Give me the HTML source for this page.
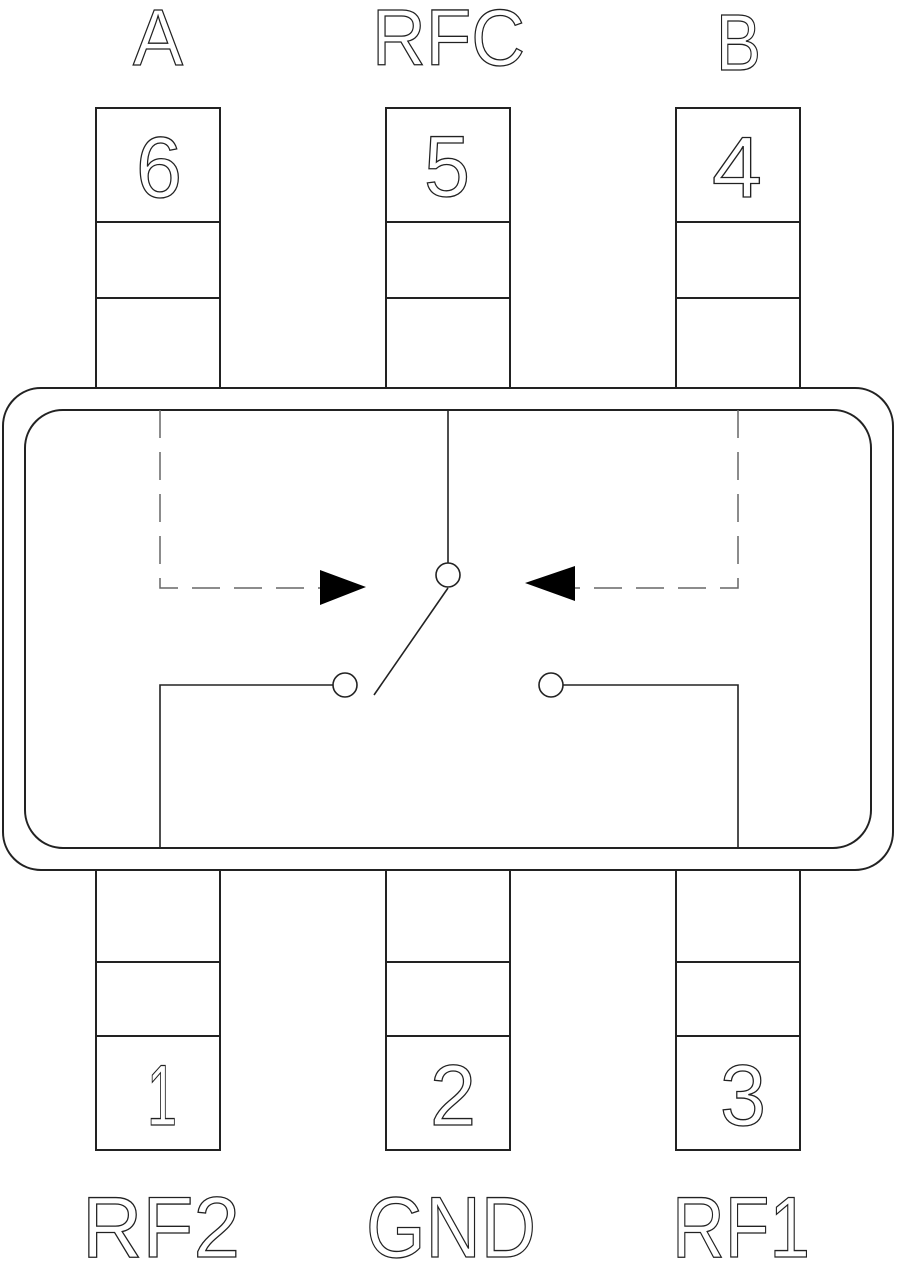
<!DOCTYPE html>
<html><head><meta charset="utf-8"><style>
html,body{margin:0;padding:0;background:#fff;}
svg{display:block;}
text{font-family:"Liberation Sans Narrow","Liberation Sans",sans-serif;fill:#fff;stroke:#222;stroke-width:1.3;}
</style></head><body>
<svg width="900" height="1265" viewBox="0 0 900 1265" xmlns="http://www.w3.org/2000/svg">
<g fill="none" stroke="#222" stroke-width="2">
<!-- top pins -->
<rect x="96" y="108" width="124" height="280"/><line x1="96" y1="222" x2="220" y2="222"/><line x1="96" y1="298" x2="220" y2="298"/>
<rect x="386" y="108" width="124" height="280"/><line x1="386" y1="222" x2="510" y2="222"/><line x1="386" y1="298" x2="510" y2="298"/>
<rect x="676" y="108" width="124" height="280"/><line x1="676" y1="222" x2="800" y2="222"/><line x1="676" y1="298" x2="800" y2="298"/>
<!-- bottom pins -->
<rect x="96" y="870" width="124" height="280"/><line x1="96" y1="962" x2="220" y2="962"/><line x1="96" y1="1036" x2="220" y2="1036"/>
<rect x="386" y="870" width="124" height="280"/><line x1="386" y1="962" x2="510" y2="962"/><line x1="386" y1="1036" x2="510" y2="1036"/>
<rect x="676" y="870" width="124" height="280"/><line x1="676" y1="962" x2="800" y2="962"/><line x1="676" y1="1036" x2="800" y2="1036"/>
<!-- body -->
<rect x="3" y="388" width="890" height="482" rx="38" fill="#fff"/>
<rect x="25" y="410" width="846" height="438" rx="38"/>
</g>
<g fill="none" stroke="#222" stroke-width="1.6">
<line x1="448" y1="410" x2="448" y2="563"/>
<line x1="448" y1="588" x2="374" y2="695"/>
<polyline points="160,848 160,685 333,685"/>
<polyline points="738,848 738,685 563,685"/>
<circle cx="448" cy="575" r="12"/>
<circle cx="345" cy="685" r="12"/>
<circle cx="551" cy="685" r="12"/>
</g>
<g fill="none" stroke="#666" stroke-width="1.5" stroke-dasharray="28,14">
<polyline points="160,410 160,588 320,588"/>
<polyline points="738,410 738,588 575,588"/>
</g>
<polygon points="320,570 320,605 366,587" fill="#000"/>
<polygon points="575,566 575,601 525,583" fill="#000"/>
<!-- labels -->
<text x="133" y="65" font-size="80" textLength="50" lengthAdjust="spacingAndGlyphs">A</text>
<text x="372" y="65" font-size="80" textLength="153" lengthAdjust="spacingAndGlyphs">RFC</text>
<text x="716" y="70" font-size="80" textLength="45" lengthAdjust="spacingAndGlyphs">B</text>
<text x="136" y="197" font-size="86" textLength="46" lengthAdjust="spacingAndGlyphs">6</text>
<text x="424" y="196" font-size="86" textLength="46" lengthAdjust="spacingAndGlyphs">5</text>
<text x="712" y="197" font-size="86" textLength="50" lengthAdjust="spacingAndGlyphs">4</text>
<text x="147" y="1125" font-size="86" textLength="30" lengthAdjust="spacingAndGlyphs">1</text>
<text x="430" y="1125" font-size="86" textLength="46" lengthAdjust="spacingAndGlyphs">2</text>
<text x="720" y="1125" font-size="86" textLength="46" lengthAdjust="spacingAndGlyphs">3</text>
<text x="82" y="1257" font-size="86" textLength="158" lengthAdjust="spacingAndGlyphs">RF2</text>
<text x="366" y="1257" font-size="86" textLength="170" lengthAdjust="spacingAndGlyphs">GND</text>
<text x="672" y="1257" font-size="86" textLength="138" lengthAdjust="spacingAndGlyphs">RF1</text>
</svg>
</body></html>
